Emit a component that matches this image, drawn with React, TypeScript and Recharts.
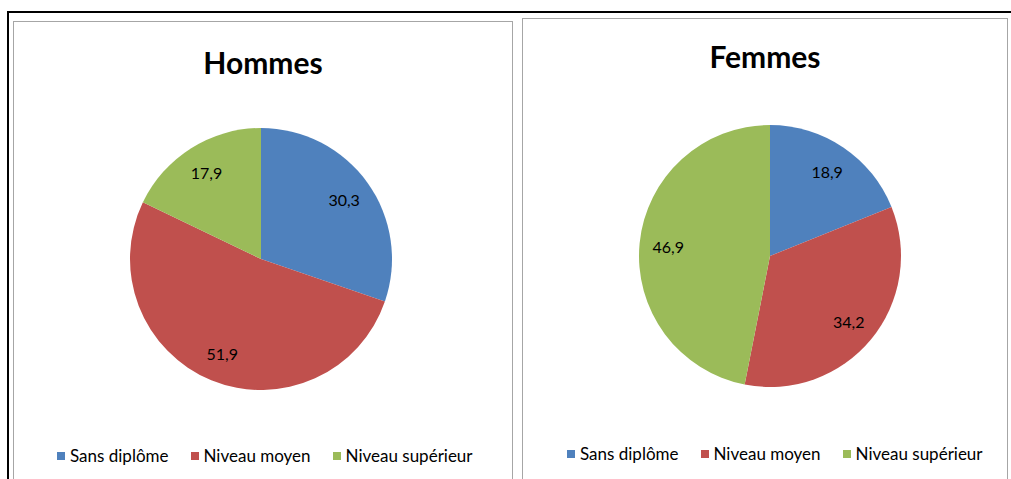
import React from 'react';
import { PieChart, Pie, Cell, Legend } from 'recharts';

const categories = ['Sans diplôme', 'Niveau moyen', 'Niveau supérieur'];
const hommesValues = [30.3, 51.9, 17.9];
const femmesValues = [18.9, 34.2, 46.9];
const colors = ['#4f81bd', '#c0504d', '#9bbb59'];

const RAD = Math.PI / 180;
const FONT = 'Lato, "Open Sans", sans-serif';

const toRows = (values: number[]) => categories.map((name, i) => ({ name, value: values[i] }));

const renderLabel = (props: any) => {
  const { cx, cy, midAngle, outerRadius, value } = props;
  const r = outerRadius * 0.78;
  const x = cx + r * Math.cos(-midAngle * RAD);
  const y = cy + r * Math.sin(-midAngle * RAD);
  return (
    <text x={x} y={y} fill='#000' textAnchor='middle' dominantBaseline='central' fontSize={16} fontFamily={FONT}>
      {String(value).replace('.', ',')}
    </text>
  );
};

// keep legend in data order (recharts sorts by value otherwise)
const renderLegend = (props: any) => {
  const items = [...(props.payload || [])].sort(
    (a: any, b: any) => categories.indexOf(a.value) - categories.indexOf(b.value),
  );
  return (
    <div style={{ display: 'flex', gap: 22, fontFamily: FONT, fontSize: 17, color: '#000', whiteSpace: 'nowrap' }}>
      {items.map((entry: any) => (
        <div key={entry.value} style={{ display: 'flex', alignItems: 'center' }}>
          <span style={{ width: 8, height: 8, background: entry.color, marginRight: 5, display: 'inline-block' }} />
          <span>{entry.value}</span>
        </div>
      ))}
    </div>
  );
};

interface PanelProps {
  title: string;
  values: number[];
  left: number;
  top: number;
  width: number;
  titleTop: number;
  legendLeft: number;
  legendTop: number;
}

const PiePanel: React.FC<PanelProps> = ({ title, values, left, top, width, titleTop, legendLeft, legendTop }) => {
  const height = 479 - top + 5;
  return (
    <div
      style={{
        position: 'absolute',
        left,
        top,
        width,
        height,
        border: '1px solid #a6a6a6',
        background: '#fff',
        boxSizing: 'border-box',
      }}
    >
      <div
        style={{
          position: 'absolute',
          top: titleTop,
          left: 0,
          width: '100%',
          textAlign: 'center',
          fontFamily: FONT,
          fontWeight: 'bold',
          fontSize: 30,
          lineHeight: '34px',
          color: '#000',
        }}
      >
        {title}
      </div>
      <div style={{ position: 'absolute', left: 0, top: 0 }}>
        <PieChart width={width - 2} height={height - 2} margin={{ top: 0, right: 0, bottom: 0, left: 0 }}>
          <Pie
            data={toRows(values)}
            dataKey='value'
            nameKey='name'
            cx={247}
            cy={237}
            outerRadius={131}
            startAngle={90}
            endAngle={-270}
            stroke='none'
            label={renderLabel}
            labelLine={false}
            isAnimationActive={false}
          >
            {values.map((_, i) => (
              <Cell key={i} fill={colors[i]} />
            ))}
          </Pie>
          <Legend
            content={renderLegend}
            verticalAlign='bottom'
            align='left'
            wrapperStyle={{ left: legendLeft, top: legendTop, bottom: 'auto', width: 'auto' }}
          />
        </PieChart>
      </div>
    </div>
  );
}

export default function App() {
  return (
    <div
      style={{
        position: 'absolute',
        left: 0,
        top: 0,
        width: 1011,
        height: 479,
        overflow: 'hidden',
        background: '#fff',
      }}
    >
      <div
        style={{
          position: 'absolute',
          left: 7,
          top: 11,
          width: 1011,
          height: 479,
          borderTop: '2px solid #000',
          borderLeft: '2px solid #000',
        }}
      />
      <PiePanel
        title='Hommes'
        values={hommesValues}
        left={13}
        top={21}
        width={500}
        titleTop={23}
        legendLeft={43}
        legendTop={423}
      />
      <PiePanel
        title='Femmes'
        values={femmesValues}
        left={522}
        top={18}
        width={486}
        titleTop={20}
        legendLeft={44}
        legendTop={424}
      />
    </div>
  );
}
